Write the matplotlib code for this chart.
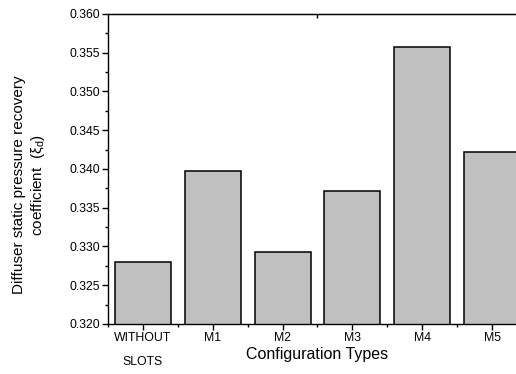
import numpy as np
import matplotlib
matplotlib.use('Agg')
import matplotlib.pyplot as plt
from matplotlib.ticker import MultipleLocator

plt.rcParams['font.family'] = ['Liberation Sans', 'DejaVu Sans']
plt.rcParams['mathtext.fontset'] = 'custom'
plt.rcParams['mathtext.rm'] = 'Liberation Sans'
plt.rcParams['mathtext.it'] = 'Liberation Sans:italic'

# data
configs = ['WITHOUT\nSLOTS', 'M1', 'M2', 'M3', 'M4', 'M5']
recovery = [0.3280, 0.3397, 0.3293, 0.3371, 0.3558, 0.3422]

#-------------------------------------------------

fig = plt.figure(figsize=(5.16, 3.74), dpi=100)
ax = fig.add_axes([0.2093, 0.1337, 0.812, 0.8289])

x = np.arange(len(configs))
ax.bar(x, recovery, width=0.8, color='#c0c0c0', edgecolor='black', linewidth=1.1)

ax.set_xlim(-0.5, 5.5)
ax.set_ylim(0.320, 0.360)

ax.set_xticks(x)
ax.set_xticklabels(configs, fontsize=8.8, linespacing=2.3, va='top')
ax.xaxis.set_minor_locator(MultipleLocator(0.5))
ax.yaxis.set_major_locator(MultipleLocator(0.005))
ax.yaxis.set_minor_locator(MultipleLocator(0.0025))
ax.yaxis.set_major_formatter(plt.FormatStrFormatter('%.3f'))
for lab in ax.get_yticklabels():
    lab.set_fontsize(8.8)

ax.tick_params(which='major', direction='out', length=4, width=1.0, pad=2)
ax.tick_params(which='minor', direction='out', length=2.5, width=1.0)
ax.tick_params(axis='x', which='minor', length=2)

# single tick on the top spine
top = ax.secondary_xaxis('top')
top.set_xticks([2.5])
top.set_xticklabels([])
top.tick_params(direction='in', length=3, width=1.0)

for s in ax.spines.values():
    s.set_linewidth(1.0)

ax.set_xlabel('Configuration Types', fontsize=11.5, labelpad=-15.5)
ax.set_ylabel('Diffuser static pressure recovery\ncoefficient  (ξ$_\\mathregular{d}$)', fontsize=11,
              multialignment='center', linespacing=1.25)
ax.yaxis.set_label_coords(-0.145, 0.448)

fig.savefig('out.png', dpi=100)
